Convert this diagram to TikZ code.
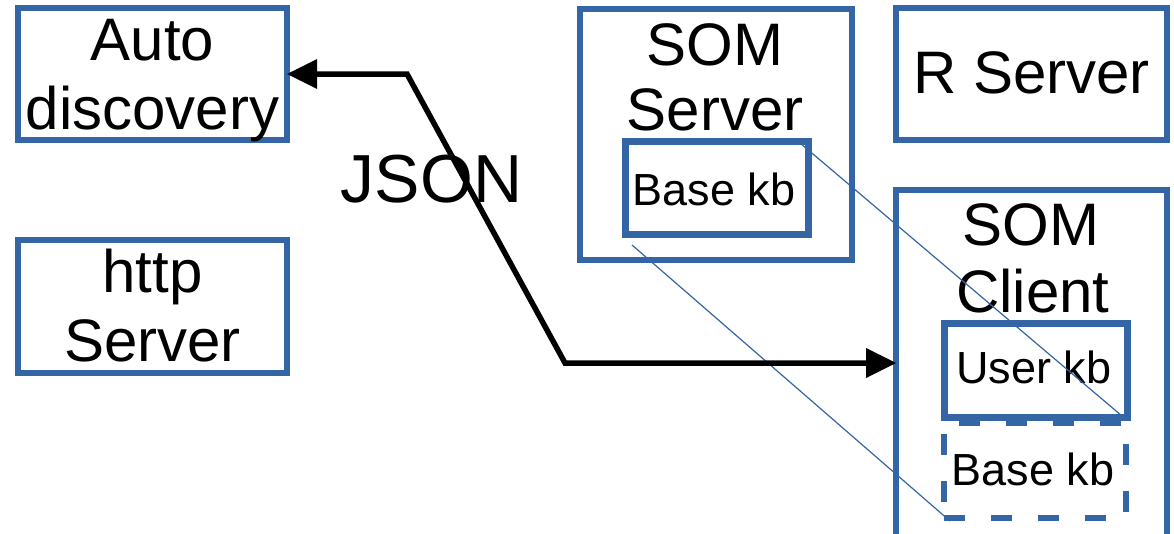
\documentclass[tikz,border=0pt]{standalone}
\usepackage{fontspec}
\setmainfont{Liberation Sans}
\usetikzlibrary{arrows.meta,calc}
\definecolor{boxblue}{RGB}{52,101,164}
\begin{document}
\begin{tikzpicture}[x=1pt,y=-1pt,
  box/.style={draw=boxblue, line width=6pt, rectangle, outer sep=0pt, inner sep=0pt},
  inbox/.style={box, line width=7pt},
  dbox/.style={box, line width=6pt, dash pattern=on 21pt off 26pt},
  big/.style={font=\fontsize{60pt}{69pt}\selectfont, inner sep=0pt, anchor=base},
  small/.style={font=\fontsize{45pt}{52pt}\selectfont, inner sep=0pt, anchor=base},
  tip/.tip={Triangle[length=30pt,width=30pt,line width=0pt]},
  conn/.style={line width=5.5pt, tip-tip, line join=miter},
  thin/.style={draw=boxblue, line width=1.2pt}]

\useasboundingbox (0,0) rectangle (1174,533);
\clip (0,0) rectangle (1174,533);

% component boxes
\node[box, minimum width=269pt, minimum height=132pt] (auto) at (152.5,74) {};
\node[box, minimum width=269pt, minimum height=133pt] (http) at (152.5,306.5) {};
\node[box, minimum width=272pt, minimum height=251pt] (soms) at (716,134.5) {};
\node[inbox, minimum width=183pt, minimum height=93pt] (bks) at (716.5,187.5) {};
\node[box, minimum width=271pt, minimum height=132pt] (rsrv) at (1031.5,74) {};
\node[box, minimum width=271pt, minimum height=380pt] (somc) at (1031.5,380) {};
\node[inbox, minimum width=183pt, minimum height=94pt] (ukb) at (1035.5,370) {};
\node[dbox, minimum width=182pt, minimum height=95pt] (bkc) at (1035,470.5) {};

% labels
\node[big] (auto-a) at (152.5,60) {Auto};
\node[big] (auto-b) at (152.5,129) {discovery};
\node[big] (http-a) at (152.5,292) {http};
\node[big] (http-b) at (152.5,361) {Server};
\node[big] (soms-a) at (715,65) {SOM};
\node[big] (soms-b) at (715,130) {Server};
\node[big] (rsrv-a) at (1031.5,93) {R Server};
\node[big] (somc-a) at (1031,245) {SOM};
\node[big] (somc-b) at (1033,312) {Client};
\node[small] (bks-a) at (714,205) {Base kb};
\node[small] (ukb-a) at (1034,383) {User kb};
\node[small] (bkc-a) at (1033,485) {Base kb};
\node[font=\fontsize{68pt}{78pt}\selectfont, inner sep=0pt, anchor=base] (json) at (431.5,202) {JSON};

% knowledge base copy lines
\draw[thin] ($(bks.north east)+(-8,2)$) -- ($(ukb.south east)+(-5,-1)$);
\draw[thin] ($(bks.south west)+(7,11)$) -- ($(bkc.south west)+(6,3)$);

% JSON exchange
\coordinate (j1) at (407,74);
\coordinate (j2) at (565,363);
\draw[conn] (auto.east |- j1) -- (j1) -- (j2) -- (j2 -| somc.west);
\end{tikzpicture}
\end{document}
